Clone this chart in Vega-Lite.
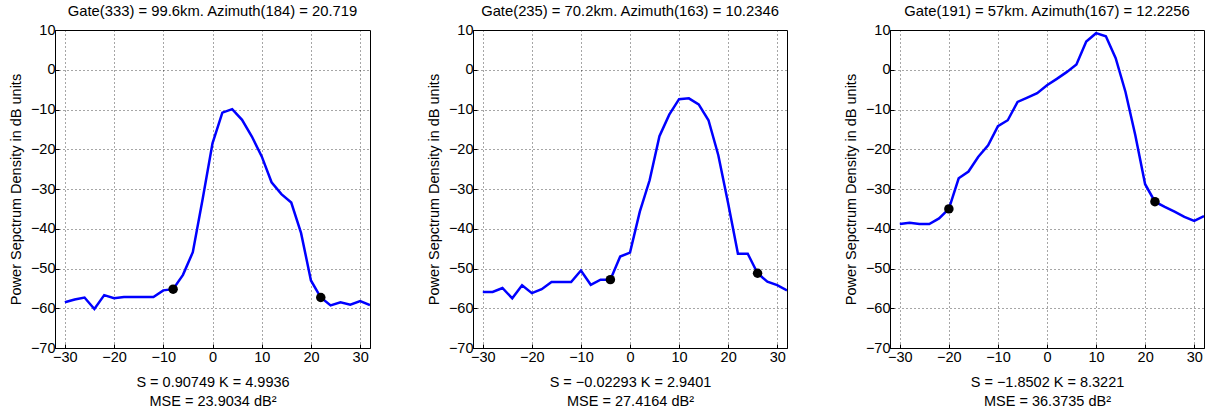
{
  "$schema": "https://vega.github.io/schema/vega-lite/v6.json",
  "background": "white",
  "padding": {"left": 7, "top": 3, "right": 0, "bottom": 0},
  "spacing": 54,
  "datasets": {
    "curves": [
      {"panel": 1, "x": -30, "psd": -58.5}, {"panel": 1, "x": -28, "psd": -57.8}, {"panel": 1, "x": -26, "psd": -57.3}, {"panel": 1, "x": -24, "psd": -60.2},
      {"panel": 1, "x": -22, "psd": -56.7}, {"panel": 1, "x": -20, "psd": -57.5}, {"panel": 1, "x": -18, "psd": -57.2}, {"panel": 1, "x": -16, "psd": -57.2},
      {"panel": 1, "x": -14, "psd": -57.2}, {"panel": 1, "x": -12, "psd": -57.2}, {"panel": 1, "x": -10, "psd": -55.5}, {"panel": 1, "x": -8, "psd": -55.2},
      {"panel": 1, "x": -6, "psd": -51.6}, {"panel": 1, "x": -4, "psd": -45.9}, {"panel": 1, "x": -2, "psd": -32.5}, {"panel": 1, "x": 0, "psd": -18.5},
      {"panel": 1, "x": 2, "psd": -10.8}, {"panel": 1, "x": 4, "psd": -9.9}, {"panel": 1, "x": 6, "psd": -12.6}, {"panel": 1, "x": 8, "psd": -16.8},
      {"panel": 1, "x": 10, "psd": -21.8}, {"panel": 1, "x": 12, "psd": -28.3}, {"panel": 1, "x": 14, "psd": -31.3}, {"panel": 1, "x": 16, "psd": -33.4},
      {"panel": 1, "x": 18, "psd": -41.1}, {"panel": 1, "x": 20, "psd": -53.0}, {"panel": 1, "x": 22, "psd": -57.3}, {"panel": 1, "x": 24, "psd": -59.3},
      {"panel": 1, "x": 26, "psd": -58.5}, {"panel": 1, "x": 28, "psd": -59.1}, {"panel": 1, "x": 30, "psd": -58.2}, {"panel": 1, "x": 32, "psd": -59.2},

      {"panel": 2, "x": -30, "psd": -55.9}, {"panel": 2, "x": -28, "psd": -55.9}, {"panel": 2, "x": -26, "psd": -54.9}, {"panel": 2, "x": -24, "psd": -57.5},
      {"panel": 2, "x": -22, "psd": -54.2}, {"panel": 2, "x": -20, "psd": -56.2}, {"panel": 2, "x": -18, "psd": -55.2}, {"panel": 2, "x": -16, "psd": -53.4},
      {"panel": 2, "x": -14, "psd": -53.4}, {"panel": 2, "x": -12, "psd": -53.4}, {"panel": 2, "x": -10, "psd": -50.5}, {"panel": 2, "x": -8, "psd": -54.1},
      {"panel": 2, "x": -6, "psd": -52.8}, {"panel": 2, "x": -4, "psd": -52.8}, {"panel": 2, "x": -2, "psd": -47.0}, {"panel": 2, "x": 0, "psd": -46.0},
      {"panel": 2, "x": 2, "psd": -35.7}, {"panel": 2, "x": 4, "psd": -27.8}, {"panel": 2, "x": 6, "psd": -16.7}, {"panel": 2, "x": 8, "psd": -11.3},
      {"panel": 2, "x": 10, "psd": -7.4}, {"panel": 2, "x": 12, "psd": -7.2}, {"panel": 2, "x": 14, "psd": -8.7}, {"panel": 2, "x": 16, "psd": -12.7},
      {"panel": 2, "x": 18, "psd": -21.5}, {"panel": 2, "x": 20, "psd": -33.6}, {"panel": 2, "x": 22, "psd": -46.3}, {"panel": 2, "x": 24, "psd": -46.3},
      {"panel": 2, "x": 26, "psd": -51.2}, {"panel": 2, "x": 28, "psd": -53.3}, {"panel": 2, "x": 30, "psd": -54.2}, {"panel": 2, "x": 32, "psd": -55.5},

      {"panel": 3, "x": -30, "psd": -38.8}, {"panel": 3, "x": -28, "psd": -38.5}, {"panel": 3, "x": -26, "psd": -38.8}, {"panel": 3, "x": -24, "psd": -38.8},
      {"panel": 3, "x": -22, "psd": -37.4}, {"panel": 3, "x": -20, "psd": -35.0}, {"panel": 3, "x": -18, "psd": -27.3}, {"panel": 3, "x": -16, "psd": -25.6},
      {"panel": 3, "x": -14, "psd": -21.9}, {"panel": 3, "x": -12, "psd": -19.0}, {"panel": 3, "x": -10, "psd": -14.2}, {"panel": 3, "x": -8, "psd": -12.7},
      {"panel": 3, "x": -6, "psd": -8.1}, {"panel": 3, "x": -4, "psd": -7.0}, {"panel": 3, "x": -2, "psd": -5.9}, {"panel": 3, "x": 0, "psd": -3.9},
      {"panel": 3, "x": 2, "psd": -2.3}, {"panel": 3, "x": 4, "psd": -0.6}, {"panel": 3, "x": 6, "psd": 1.3}, {"panel": 3, "x": 8, "psd": 7.1},
      {"panel": 3, "x": 10, "psd": 9.2}, {"panel": 3, "x": 12, "psd": 8.4}, {"panel": 3, "x": 14, "psd": 2.9}, {"panel": 3, "x": 16, "psd": -5.6},
      {"panel": 3, "x": 18, "psd": -16.5}, {"panel": 3, "x": 20, "psd": -28.8}, {"panel": 3, "x": 22, "psd": -33.2}, {"panel": 3, "x": 24, "psd": -34.5},
      {"panel": 3, "x": 26, "psd": -35.7}, {"panel": 3, "x": 28, "psd": -37.0}, {"panel": 3, "x": 30, "psd": -38.0}, {"panel": 3, "x": 32, "psd": -36.8}
    ],
    "dots": [
      {"panel": 1, "x": -8, "psd": -55.2}, {"panel": 1, "x": 22, "psd": -57.3},
      {"panel": 2, "x": -4, "psd": -52.8}, {"panel": 2, "x": 26, "psd": -51.2},
      {"panel": 3, "x": -20, "psd": -35.0}, {"panel": 3, "x": 22, "psd": -33.2}
    ]
  },
  "config": {
    "font": "Liberation Sans",
    "view": {"stroke": "black", "strokeWidth": 1},
    "title": {"fontSize": 14.8, "fontWeight": "normal", "color": "black", "offset": 3, "font": "Liberation Sans"},
    "axis": {
      "grid": true, "gridColor": "black", "gridDash": [1, 3], "gridOpacity": 0.7, "gridWidth": 1,
      "domain": true, "domainColor": "black", "domainWidth": 1,
      "ticks": true, "tickColor": "black", "tickSize": -4,
      "labelOverlap": false,
      "labelFont": "Liberation Sans", "labelFontSize": 14.5, "labelColor": "black",
      "titleFont": "Liberation Sans", "titleFontSize": 14.5, "titleFontWeight": "normal", "titleColor": "black"
    }
  },
  "hconcat": [
    {
      "width": 315, "height": 318,
      "title": "Gate(333) = 99.6km. Azimuth(184) = 20.719",
      "encoding": {
        "x": {"field": "x", "type": "quantitative", "scale": {"domain": [-32, 32], "nice": false}, "axis": {"values": [-30, -20, -10, 0, 10, 20, 30], "labelPadding": 6, "title": ["S = 0.90749 K = 4.9936", "MSE = 23.9034 dB²"], "titleLineHeight": 19, "titlePadding": 12}},
        "y": {"field": "psd", "type": "quantitative", "scale": {"domain": [-70, 10], "nice": false}, "axis": {"values": [-70, -60, -50, -40, -30, -20, -10, 0, 10], "labelOverlap": false, "labelPadding": 4, "title": "Power Sepctrum Density in dB units", "titlePadding": 7}}
      },
      "layer": [
        {"data": {"name": "curves"}, "transform": [{"filter": "datum.panel == 1"}],
         "mark": {"type": "line", "color": "#0000ff", "strokeWidth": 2.5, "clip": true}},
        {"data": {"name": "dots"}, "transform": [{"filter": "datum.panel == 1"}],
         "mark": {"type": "circle", "color": "black", "opacity": 1, "size": 90}}
      ]
    },
    {
      "width": 314, "height": 318,
      "title": "Gate(235) = 70.2km. Azimuth(163) = 10.2346",
      "encoding": {
        "x": {"field": "x", "type": "quantitative", "scale": {"domain": [-32, 32], "nice": false}, "axis": {"values": [-30, -20, -10, 0, 10, 20, 30], "labelPadding": 6, "title": ["S = −0.02293 K = 2.9401", "MSE = 27.4164 dB²"], "titleLineHeight": 19, "titlePadding": 12}},
        "y": {"field": "psd", "type": "quantitative", "scale": {"domain": [-70, 10], "nice": false}, "axis": {"values": [-70, -60, -50, -40, -30, -20, -10, 0, 10], "labelOverlap": false, "labelPadding": 4, "title": "Power Sepctrum Density in dB units", "titlePadding": 7}}
      },
      "layer": [
        {"data": {"name": "curves"}, "transform": [{"filter": "datum.panel == 2"}],
         "mark": {"type": "line", "color": "#0000ff", "strokeWidth": 2.5, "clip": true}},
        {"data": {"name": "dots"}, "transform": [{"filter": "datum.panel == 2"}],
         "mark": {"type": "circle", "color": "black", "opacity": 1, "size": 90}}
      ]
    },
    {
      "width": 314, "height": 318,
      "title": "Gate(191) = 57km. Azimuth(167) = 12.2256",
      "encoding": {
        "x": {"field": "x", "type": "quantitative", "scale": {"domain": [-32, 32], "nice": false}, "axis": {"values": [-30, -20, -10, 0, 10, 20, 30], "labelPadding": 6, "title": ["S = −1.8502 K = 8.3221", "MSE = 36.3735 dB²"], "titleLineHeight": 19, "titlePadding": 12}},
        "y": {"field": "psd", "type": "quantitative", "scale": {"domain": [-70, 10], "nice": false}, "axis": {"values": [-70, -60, -50, -40, -30, -20, -10, 0, 10], "labelOverlap": false, "labelPadding": 4, "title": "Power Sepctrum Density in dB units", "titlePadding": 7}}
      },
      "layer": [
        {"data": {"name": "curves"}, "transform": [{"filter": "datum.panel == 3"}],
         "mark": {"type": "line", "color": "#0000ff", "strokeWidth": 2.5, "clip": true}},
        {"data": {"name": "dots"}, "transform": [{"filter": "datum.panel == 3"}],
         "mark": {"type": "circle", "color": "black", "opacity": 1, "size": 90}}
      ]
    }
  ]
}
